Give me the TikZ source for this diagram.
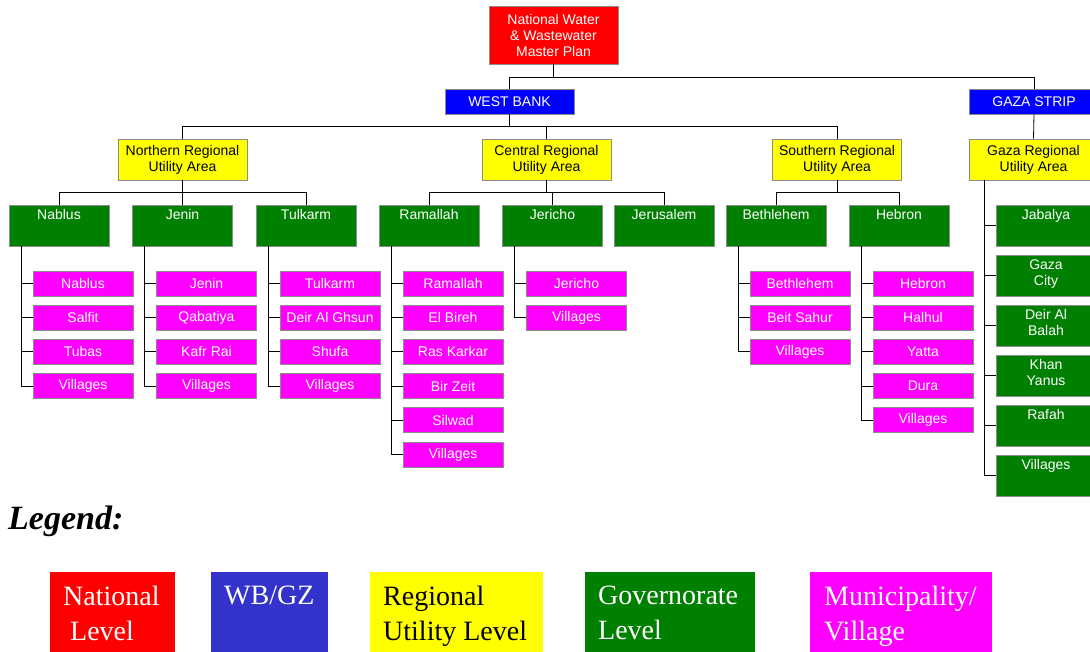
\documentclass[tikz,border=0pt]{standalone}
\usepackage{fontspec}
\setmainfont{Liberation Serif}
\newfontfamily\boxfont{Liberation Sans}
\definecolor{natred}{HTML}{FF0000}
\definecolor{wbblue}{HTML}{0000FF}
\definecolor{regyellow}{HTML}{FFFF00}
\definecolor{govgreen}{HTML}{008000}
\definecolor{munmag}{HTML}{FF00FF}
\definecolor{legblue}{HTML}{3333CC}
\definecolor{bordergray}{HTML}{8C8C8C}
\begin{document}
\begin{tikzpicture}[x=1pt,y=-1pt,
  box/.style={draw=bordergray, line width=0.8pt, inner sep=1pt, align=center,
    font=\boxfont\fontsize{14}{16}\selectfont},
  natbox/.style={box, fill=natred, text=white, minimum width=129pt, minimum height=58pt},
  areabox/.style={box, fill=wbblue, text=white, minimum width=129pt, minimum height=25pt},
  regbox/.style={box, fill=regyellow, text=black, minimum width=129pt, minimum height=41pt},
  govlab/.style={anchor=north, yshift=-4pt, text=white, inner sep=1pt, align=center,
    font=\boxfont\fontsize{14}{16}\selectfont},
  govbox/.style={box, fill=govgreen, minimum width=100pt, minimum height=41pt,
    label={[govlab]north:{#1}}},
  munbox/.style={box, fill=munmag, text=white, minimum width=100pt, minimum height=25pt},
  conn/.style={draw=black, line width=0.8pt},
  legbox/.style={draw=none, anchor=north west, minimum height=90pt, inner sep=0pt},
  legtext/.style={anchor=north west, inner sep=0pt, align=left,
    font=\fontsize{28}{35}\selectfont}
]
\useasboundingbox (0,0) rectangle (1090,652);
\fill[white] (0,0) rectangle (1090,652);
\clip (0,0) rectangle (1090,652);

% top levels
\node[natbox] (nat) at (553.5,35) {National Water\\\& Wastewater\\Master Plan};
\node[areabox] (wb) at (509.5,101.5) {WEST BANK};
\node[areabox] (gz) at (1034,101.5) {GAZA STRIP};

\node[regbox] (nra) at (182.5,159.5) {Northern Regional\\Utility Area};
\node[regbox] (cra) at (546.5,159.5) {Central Regional\\Utility Area};
\node[regbox] (sra) at (837,159.5) {Southern Regional\\Utility Area};
\node[regbox] (gra) at (1033.5,159.5) {Gaza Regional\\Utility Area};

% governorates
\node[govbox=Nablus] (nab) at (59,225.5) {};
\node[govbox=Jenin] (jen) at (182.5,225.5) {};
\node[govbox=Tulkarm] (tul) at (306,225.5) {};
\node[govbox=Ramallah] (ram) at (429,225.5) {};
\node[govbox=Jericho] (jer) at (552.5,225.5) {};
\node[govbox=Jerusalem] (jrs) at (664,225.5) {};
\node[govbox=Bethlehem] (bet) at (776,225.5) {};
\node[govbox=Hebron] (heb) at (899,225.5) {};

\node[govbox=Jabalya] (jab) at (1046,225.5) {};
\node[govbox={Gaza\\City}] (gzc) at (1046,275.5) {};
\node[govbox={Deir Al\\Balah}] (dab) at (1046,325.5) {};
\node[govbox={Khan\\Yanus}] (khy) at (1046,375.5) {};
\node[govbox=Rafah] (raf) at (1046,425.5) {};
\node[govbox=Villages] (gvil) at (1046,475.5) {};

% municipalities
\node[munbox] (nab1) at (83,283.5) {Nablus};
\node[munbox] (nab2) at (83,317.7) {Salfit};
\node[munbox] (nab3) at (83,351.9) {Tubas};
\node[munbox] (nab4) at (83,386.1) {Villages};

\node[munbox] (jen1) at (206.5,283.5) {Jenin};
\node[munbox] (jen2) at (206.5,317.7) {Qabatiya};
\node[munbox] (jen3) at (206.5,351.9) {Kafr Rai};
\node[munbox] (jen4) at (206.5,386.1) {Villages};

\node[munbox] (tul1) at (330,283.5) {Tulkarm};
\node[munbox] (tul2) at (330,317.7) {Deir Al Ghsun};
\node[munbox] (tul3) at (330,351.9) {Shufa};
\node[munbox] (tul4) at (330,386.1) {Villages};

\node[munbox] (ram1) at (453,283.5) {Ramallah};
\node[munbox] (ram2) at (453,317.7) {El Bireh};
\node[munbox] (ram3) at (453,351.9) {Ras Karkar};
\node[munbox] (ram4) at (453,386.1) {Bir Zeit};
\node[munbox] (ram5) at (453,420.3) {Silwad};
\node[munbox] (ram6) at (453,454.5) {Villages};

\node[munbox] (jer1) at (576.5,283.5) {Jericho};
\node[munbox] (jer2) at (576.5,317.7) {Villages};

\node[munbox] (bet1) at (800,283.5) {Bethlehem};
\node[munbox] (bet2) at (800,317.7) {Beit Sahur};
\node[munbox] (bet3) at (800,351.9) {Villages};

\node[munbox] (heb1) at (923,283.5) {Hebron};
\node[munbox] (heb2) at (923,317.7) {Halhul};
\node[munbox] (heb3) at (923,351.9) {Yatta};
\node[munbox] (heb4) at (923,386.1) {Dura};
\node[munbox] (heb5) at (923,420.3) {Villages};

% connectors
\draw[conn] (nat.south) -- ++(0,13) coordinate (natb);
\draw[conn] (natb) -| (wb.north);
\draw[conn] (natb) -| (gz.north);

\draw[conn] (wb.south) -- ++(0,12) coordinate (wbb);
\draw[conn] (wbb) -| (nra.north);
\draw[conn] (wbb) -| (cra.north);
\draw[conn] (wbb) -| (sra.north);
\draw[conn] (gz.south) -- (gra.north);

\draw[conn] (nra.south) -- ++(0,12) coordinate (nrab);
\foreach \g in {nab,jen,tul} \draw[conn] (nrab) -| (\g.north);
\draw[conn] (cra.south) -- ++(0,12) coordinate (crab);
\foreach \g in {ram,jer,jrs} \draw[conn] (crab) -| (\g.north);
\draw[conn] (sra.south) -- ++(0,12) coordinate (srab);
\foreach \g in {bet,heb} \draw[conn] (srab) -| (\g.north);

\foreach \c in {nab1,nab2,nab3,nab4} \draw[conn] ([xshift=12.5pt]nab.south west) |- (\c.west);
\foreach \c in {jen1,jen2,jen3,jen4} \draw[conn] ([xshift=12.5pt]jen.south west) |- (\c.west);
\foreach \c in {tul1,tul2,tul3,tul4} \draw[conn] ([xshift=12.5pt]tul.south west) |- (\c.west);
\foreach \c in {ram1,ram2,ram3,ram4,ram5,ram6} \draw[conn] ([xshift=12.5pt]ram.south west) |- (\c.west);
\foreach \c in {jer1,jer2} \draw[conn] ([xshift=12.5pt]jer.south west) |- (\c.west);
\foreach \c in {bet1,bet2,bet3} \draw[conn] ([xshift=12.5pt]bet.south west) |- (\c.west);
\foreach \c in {heb1,heb2,heb3,heb4,heb5} \draw[conn] ([xshift=12.5pt]heb.south west) |- (\c.west);
\foreach \c in {jab,gzc,dab,khy,raf,gvil} \draw[conn] ([xshift=16pt]gra.south west) |- (\c.west);

% legend
\node[anchor=base west, inner sep=0pt, font=\fontsize{34}{40}\selectfont\bfseries\itshape] (legtitle) at (8,529) {Legend:};

\node[legbox, fill=natred, minimum width=125pt] (lg1) at (50,572) {};
\node[legbox, fill=legblue, minimum width=117pt] (lg2) at (211,572) {};
\node[legbox, fill=regyellow, minimum width=173pt] (lg3) at (370,572) {};
\node[legbox, fill=govgreen, minimum width=170pt] (lg4) at (585,572) {};
\node[legbox, fill=munmag, minimum width=182pt] (lg5) at (810,572) {};

\node[legtext, text=white] (lt1) at ([xshift=13pt,yshift=-14pt]lg1.north west) {National\\\hspace*{7pt}Level};
\node[legtext, text=white] (lt2) at ([xshift=13pt,yshift=-14pt]lg2.north west) {WB/GZ};
\node[legtext, text=black] (lt3) at ([xshift=13pt,yshift=-14pt]lg3.north west) {Regional\\Utility Level};
\node[legtext, text=white] (lt4) at ([xshift=13pt,yshift=-14pt]lg4.north west) {Governorate\\Level};
\node[legtext, text=white] (lt5) at ([xshift=14pt,yshift=-14pt]lg5.north west) {Municipality/\\Village};
\end{tikzpicture}
\end{document}
